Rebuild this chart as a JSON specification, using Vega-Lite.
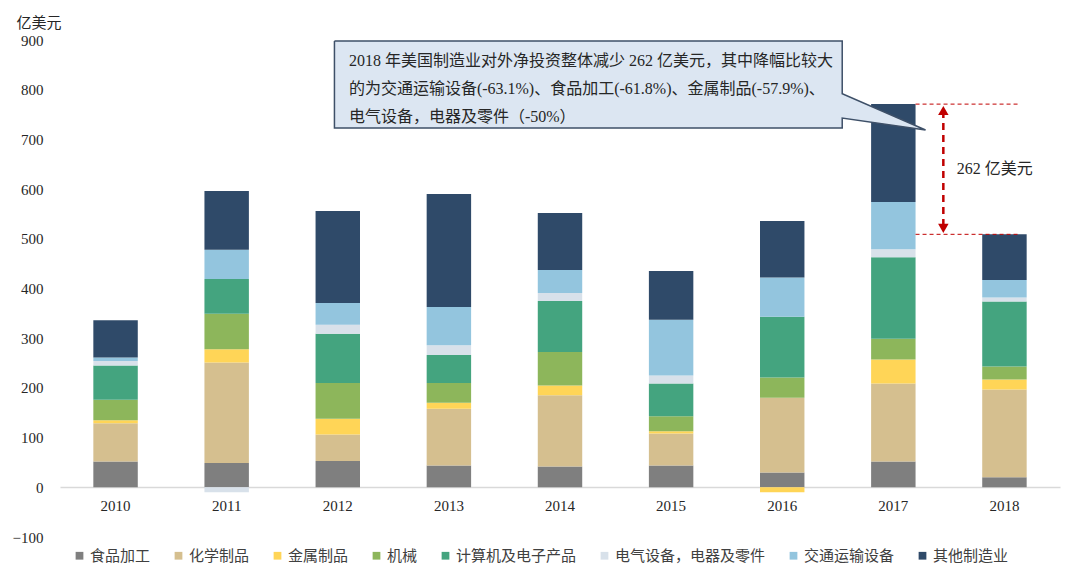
{
  "$schema": "https://vega.github.io/schema/vega-lite/v6.json",
  "width": 1000,
  "height": 497,
  "autosize": {"type": "none"},
  "padding": {"left": 60, "top": 40, "right": 20, "bottom": 50},
  "background": "white",
  "config": {"view": {"stroke": null}},
  "resolve": {"scale": {"x": "independent"}},
  "layer": [
    {
      "data": {"values": [
        {"year": "2010", "cat": "食品加工", "o": 1, "v": 52},
        {"year": "2010", "cat": "化学制品", "o": 2, "v": 77},
        {"year": "2010", "cat": "金属制品", "o": 3, "v": 6},
        {"year": "2010", "cat": "机械", "o": 4, "v": 41},
        {"year": "2010", "cat": "计算机及电子产品", "o": 5, "v": 69},
        {"year": "2010", "cat": "电气设备，电器及零件", "o": 6, "v": 9},
        {"year": "2010", "cat": "交通运输设备", "o": 7, "v": 7},
        {"year": "2010", "cat": "其他制造业", "o": 8, "v": 75},
        {"year": "2011", "cat": "食品加工", "o": 1, "v": 49},
        {"year": "2011", "cat": "化学制品", "o": 2, "v": 202},
        {"year": "2011", "cat": "金属制品", "o": 3, "v": 27},
        {"year": "2011", "cat": "机械", "o": 4, "v": 71},
        {"year": "2011", "cat": "计算机及电子产品", "o": 5, "v": 70},
        {"year": "2011", "cat": "电气设备，电器及零件", "o": 6, "v": -10},
        {"year": "2011", "cat": "交通运输设备", "o": 7, "v": 59},
        {"year": "2011", "cat": "其他制造业", "o": 8, "v": 118},
        {"year": "2012", "cat": "食品加工", "o": 1, "v": 53},
        {"year": "2012", "cat": "化学制品", "o": 2, "v": 53},
        {"year": "2012", "cat": "金属制品", "o": 3, "v": 32},
        {"year": "2012", "cat": "机械", "o": 4, "v": 72},
        {"year": "2012", "cat": "计算机及电子产品", "o": 5, "v": 99},
        {"year": "2012", "cat": "电气设备，电器及零件", "o": 6, "v": 18},
        {"year": "2012", "cat": "交通运输设备", "o": 7, "v": 44},
        {"year": "2012", "cat": "其他制造业", "o": 8, "v": 185},
        {"year": "2013", "cat": "食品加工", "o": 1, "v": 44},
        {"year": "2013", "cat": "化学制品", "o": 2, "v": 114},
        {"year": "2013", "cat": "金属制品", "o": 3, "v": 12},
        {"year": "2013", "cat": "机械", "o": 4, "v": 40},
        {"year": "2013", "cat": "计算机及电子产品", "o": 5, "v": 56},
        {"year": "2013", "cat": "电气设备，电器及零件", "o": 6, "v": 20},
        {"year": "2013", "cat": "交通运输设备", "o": 7, "v": 77},
        {"year": "2013", "cat": "其他制造业", "o": 8, "v": 227},
        {"year": "2014", "cat": "食品加工", "o": 1, "v": 42},
        {"year": "2014", "cat": "化学制品", "o": 2, "v": 143},
        {"year": "2014", "cat": "金属制品", "o": 3, "v": 20},
        {"year": "2014", "cat": "机械", "o": 4, "v": 67},
        {"year": "2014", "cat": "计算机及电子产品", "o": 5, "v": 103},
        {"year": "2014", "cat": "电气设备，电器及零件", "o": 6, "v": 16},
        {"year": "2014", "cat": "交通运输设备", "o": 7, "v": 46},
        {"year": "2014", "cat": "其他制造业", "o": 8, "v": 115},
        {"year": "2015", "cat": "食品加工", "o": 1, "v": 44},
        {"year": "2015", "cat": "化学制品", "o": 2, "v": 64},
        {"year": "2015", "cat": "金属制品", "o": 3, "v": 5},
        {"year": "2015", "cat": "机械", "o": 4, "v": 30},
        {"year": "2015", "cat": "计算机及电子产品", "o": 5, "v": 66},
        {"year": "2015", "cat": "电气设备，电器及零件", "o": 6, "v": 16},
        {"year": "2015", "cat": "交通运输设备", "o": 7, "v": 112},
        {"year": "2015", "cat": "其他制造业", "o": 8, "v": 98},
        {"year": "2016", "cat": "食品加工", "o": 1, "v": 30},
        {"year": "2016", "cat": "化学制品", "o": 2, "v": 150},
        {"year": "2016", "cat": "金属制品", "o": 3, "v": -10},
        {"year": "2016", "cat": "机械", "o": 4, "v": 41},
        {"year": "2016", "cat": "计算机及电子产品", "o": 5, "v": 122},
        {"year": "2016", "cat": "电气设备，电器及零件", "o": 6, "v": 0},
        {"year": "2016", "cat": "交通运输设备", "o": 7, "v": 79},
        {"year": "2016", "cat": "其他制造业", "o": 8, "v": 114},
        {"year": "2017", "cat": "食品加工", "o": 1, "v": 52},
        {"year": "2017", "cat": "化学制品", "o": 2, "v": 157},
        {"year": "2017", "cat": "金属制品", "o": 3, "v": 48},
        {"year": "2017", "cat": "机械", "o": 4, "v": 42},
        {"year": "2017", "cat": "计算机及电子产品", "o": 5, "v": 164},
        {"year": "2017", "cat": "电气设备，电器及零件", "o": 6, "v": 16},
        {"year": "2017", "cat": "交通运输设备", "o": 7, "v": 95},
        {"year": "2017", "cat": "其他制造业", "o": 8, "v": 197},
        {"year": "2018", "cat": "食品加工", "o": 1, "v": 20},
        {"year": "2018", "cat": "化学制品", "o": 2, "v": 177},
        {"year": "2018", "cat": "金属制品", "o": 3, "v": 20},
        {"year": "2018", "cat": "机械", "o": 4, "v": 26},
        {"year": "2018", "cat": "计算机及电子产品", "o": 5, "v": 131},
        {"year": "2018", "cat": "电气设备，电器及零件", "o": 6, "v": 8},
        {"year": "2018", "cat": "交通运输设备", "o": 7, "v": 35},
        {"year": "2018", "cat": "其他制造业", "o": 8, "v": 92}
      ]},
      "mark": {"type": "bar"},
      "encoding": {
        "x": {
          "field": "year", "type": "nominal", "sort": null,
          "scale": {"paddingInner": 0.6, "paddingOuter": 0.3},
          "axis": {
            "title": null, "labelAngle": 0, "offset": -50, "ticks": false,
            "domainColor": "#D9D9D9", "domainWidth": 1.5,
            "labelFont": "Liberation Serif", "labelFontSize": 15, "labelColor": "#262626",
            "labelPadding": 11
          }
        },
        "y": {
          "field": "v", "type": "quantitative", "stack": "zero",
          "scale": {"domain": [-100, 900], "nice": false, "zero": false},
          "axis": {
            "title": "亿美元", "titleAngle": 0, "titleAlign": "left", "titleBaseline": "middle",
            "titleX": -44, "titleY": -18, "titleFont": "Noto Sans CJK SC", "titleFontSize": 15,
            "titleFontWeight": "normal", "titleColor": "#262626",
            "values": [-100, 0, 100, 200, 300, 400, 500, 600, 700, 800, 900],
            "grid": false, "domain": false, "ticks": false, "labelPadding": 17,
            "labelFont": "Liberation Serif", "labelFontSize": 15, "labelColor": "#262626"
          }
        },
        "color": {
          "field": "cat", "type": "nominal",
          "scale": {
            "domain": ["食品加工", "化学制品", "金属制品", "机械", "计算机及电子产品", "电气设备，电器及零件", "交通运输设备", "其他制造业"],
            "range": ["#7F7F7F", "#D5BF8F", "#FFD557", "#8DB65B", "#44A47F", "#D8E1EA", "#93C5DE", "#2F4A69"]
          },
          "legend": {
            "title": null, "orient": "none", "legendX": 12, "legendY": 508, "direction": "horizontal",
            "symbolType": "square", "symbolSize": 60, "symbolStrokeWidth": 0,
            "labelFont": "Noto Sans CJK SC", "labelFontSize": 15, "labelColor": "#404040",
            "columnPadding": 20, "labelOffset": 3, "labelLimit": 300
          }
        },
        "order": {"field": "o", "type": "quantitative"}
      }
    },
    {
      "data": {"values": [
        {"x": 2017.2, "x2": 2018.14, "v": 771},
        {"x": 2017.2, "x2": 2018.14, "v": 509}
      ]},
      "mark": {"type": "rule", "color": "#C00000", "strokeWidth": 1, "strokeDash": [4, 3]},
      "encoding": {
        "x": {"field": "x", "type": "quantitative", "scale": {"domain": [2009.5, 2018.5], "nice": false, "zero": false}, "axis": null},
        "x2": {"field": "x2"},
        "y": {"field": "v", "type": "quantitative"}
      }
    },
    {
      "data": {"values": [
        {"x": 2017.45, "v": 757, "v2": 525}
      ]},
      "mark": {"type": "rule", "color": "#C00000", "strokeWidth": 2.5, "strokeDash": [7, 5]},
      "encoding": {
        "x": {"field": "x", "type": "quantitative", "scale": {"domain": [2009.5, 2018.5], "nice": false, "zero": false}, "axis": null},
        "y": {"field": "v", "type": "quantitative"},
        "y2": {"field": "v2"}
      }
    },
    {
      "data": {"values": [
        {"x": 2017.45, "v": 758, "s": "triangle-up"},
        {"x": 2017.45, "v": 521, "s": "triangle-down"}
      ]},
      "mark": {"type": "point", "filled": true, "color": "#C00000", "opacity": 1, "size": 110},
      "encoding": {
        "x": {"field": "x", "type": "quantitative", "scale": {"domain": [2009.5, 2018.5], "nice": false, "zero": false}, "axis": null},
        "y": {"field": "v", "type": "quantitative"},
        "shape": {"field": "s", "type": "nominal", "scale": null}
      }
    },
    {
      "data": {"values": [
        {"x": 2017.57, "v": 640, "t": "262 亿美元"}
      ]},
      "mark": {"type": "text", "align": "left", "baseline": "middle", "font": "Liberation Serif, Noto Sans CJK SC", "fontSize": 16, "color": "#262626"},
      "encoding": {
        "x": {"field": "x", "type": "quantitative", "scale": {"domain": [2009.5, 2018.5], "nice": false, "zero": false}, "axis": null},
        "y": {"field": "v", "type": "quantitative"},
        "text": {"field": "t"}
      }
    },
    {
      "data": {"values": [
        {"i": 1, "x": 2011.97, "v": 898},
        {"i": 2, "x": 2016.54, "v": 898},
        {"i": 3, "x": 2016.54, "v": 792},
        {"i": 4, "x": 2017.29, "v": 719},
        {"i": 5, "x": 2016.54, "v": 743},
        {"i": 6, "x": 2016.54, "v": 723},
        {"i": 7, "x": 2011.97, "v": 723},
        {"i": 8, "x": 2011.97, "v": 898}
      ]},
      "mark": {"type": "line", "fill": "#DCE6F2", "stroke": "#3E5068", "strokeWidth": 1.5, "interpolate": "linear"},
      "encoding": {
        "x": {"field": "x", "type": "quantitative", "scale": {"domain": [2009.5, 2018.5], "nice": false, "zero": false}, "axis": null},
        "y": {"field": "v", "type": "quantitative"},
        "order": {"field": "i", "type": "quantitative"}
      }
    },
    {
      "data": {"values": [
        {"x": 2012.1, "v": 858, "t": ["2018 年美国制造业对外净投资整体减少 262 亿美元，其中降幅比较大", "的为交通运输设备(-63.1%)、食品加工(-61.8%)、金属制品(-57.9%)、", "电气设备，电器及零件（-50%）"]}
      ]},
      "mark": {"type": "text", "align": "left", "baseline": "middle", "lineHeight": 28, "font": "Liberation Serif, Noto Sans CJK SC", "fontSize": 16, "color": "#262626"},
      "encoding": {
        "x": {"field": "x", "type": "quantitative", "scale": {"domain": [2009.5, 2018.5], "nice": false, "zero": false}, "axis": null},
        "y": {"field": "v", "type": "quantitative"},
        "text": {"field": "t"}
      }
    }
  ]
}
